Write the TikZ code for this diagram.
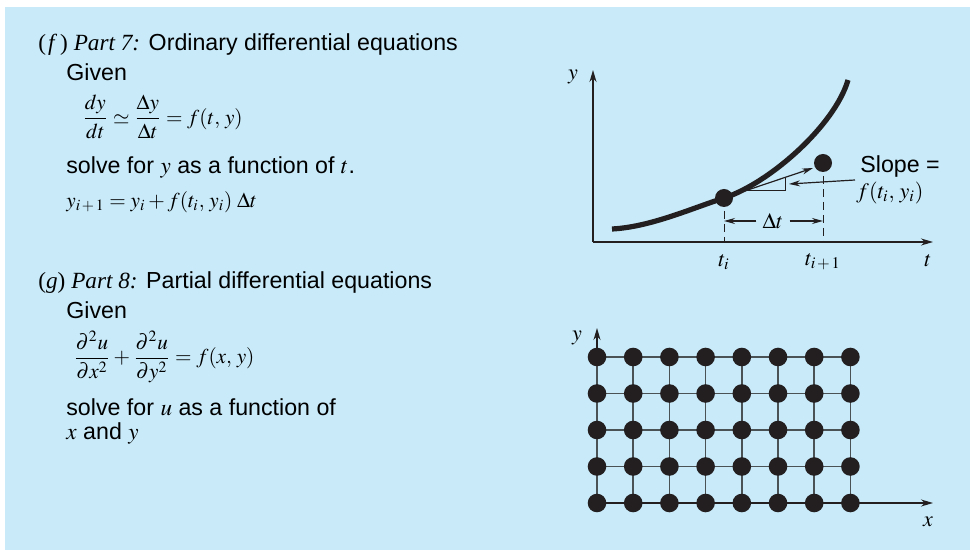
\documentclass[tikz,border=0pt]{standalone}
\usepackage{amsmath}
\usepackage{mathptmx}
\usepackage[no-math]{fontspec}
\setmainfont{Liberation Sans}
\newfontfamily\tms{Liberation Serif}
\usetikzlibrary{arrows.meta}
\definecolor{bgblue}{RGB}{200,234,249}
\definecolor{ink}{RGB}{35,31,32}
\definecolor{gridgray}{RGB}{75,82,86}
\tikzset{
  txt/.style={inner sep=0pt, anchor=west, font=\fontsize{11.6}{13}\selectfont},
  mathtxt/.style={inner sep=0pt, anchor=west, font=\fontsize{10.6}{13}\selectfont},
  lbl/.style={inner sep=0pt, font=\fontsize{11}{13}\selectfont},
  axis/.style={ink, line width=0.7pt, -{Stealth[length=6pt,width=3.5pt]}},
  thinarrow/.style={ink, line width=0.6pt, -{Stealth[length=5.5pt,width=3pt]}},
  dot/.style={circle, fill=ink, inner sep=0pt, minimum size=9pt},
  griddot/.style={circle, fill=ink, inner sep=0pt, minimum size=9.3pt},
}

\begin{document}
\begin{tikzpicture}[x=0.5pt, y=-0.5pt]
	\useasboundingbox (0,0) rectangle (970,550);
	\fill [bgblue] (5,7) rectangle (970,550);

	% (f) ordinary differential equations
	\node [txt] (ftitle) at (38,45) {{\tms(\kern1pt\textit{f}\kern1.5pt) \textit{Part 7:}} Ordinary differential equations};
	\node [txt] (fgiven) at (66,72) {Given};
	\node [mathtxt] (feq) at (82,117) {$\dfrac{dy}{dt} \simeq \dfrac{\Delta y}{\Delta t} = f(t,\, y)$};
	\node [txt] (fsolve) at (66,167) {solve for $y$ as a function of $t$.};
	\node [mathtxt] (feuler) at (66,202) {$y_{i\,+\,1} = y_i + f(t_i,\, y_i)\;\Delta t$};

	% (g) partial differential equations
	\node [txt] (gtitle) at (38,283) {{\tms(\textit{g}) \textit{Part 8:}} Partial differential equations};
	\node [txt] (ggiven) at (66,310) {Given};
	\node [mathtxt] (geq) at (73,357) {$\dfrac{\partial^2 u}{\partial x^2} + \dfrac{\partial^2 u}{\partial y^2} = f(x,\, y)$};
	\node [txt] (gsolve) at (66,407) {solve for $u$ as a function of};
	\node [txt] (gxy) at (66,433) {$x$ and $y$};

	% Euler step plot
	\coordinate (O) at (593,242);
	\coordinate (yend) at (593,70);
	\coordinate (tend) at (933,242);
	\draw [axis] (O) -- (yend);
	\draw [axis] (O) -- (tend);
	\node [lbl] (ylab) at (573,77) {$y$};
	\node [lbl] (tlab) at (928,261) {$t$};

	\coordinate (c1) at (724,198);
	\coordinate (c2) at (823,163);
	\coordinate (ti) at (724,242);
	\coordinate (tj) at (823,242);
	\draw [ink, line width=2.6pt] (612,229) .. controls (650,227) and (690,209) .. (c1)
		.. controls (770,183) and (835,125) .. (848,80);
	\draw [ink, line width=0.5pt, dash pattern=on 4pt off 2.5pt] (c1) -- (ti);
	\draw [ink, line width=0.5pt, dash pattern=on 4pt off 2.5pt] (c2) -- (tj);
	\node [dot] (p1) at (c1) {};
	\node [dot] (p2) at (c2) {};

	\coordinate (tanend) at (813,168);
	\draw [thinarrow] (p1) -- (tanend);
	\draw [ink, line width=0.5pt] (745,191) -- (785,191) -- (785,177);

	\node [txt] (slope) at (860,167) {Slope =};
	\node [lbl, anchor=west] (slopef) at (856,193) {$f(t_i,\, y_i)$};
	\coordinate (slopetip) at (789,184);
	\draw [thinarrow] (855,180) -- (slopetip);

	\node [lbl, inner sep=3pt] (dt) at (773,221) {$\Delta t$};
	\coordinate (dtl) at (724,221);
	\coordinate (dtr) at (823,221);
	\draw [thinarrow] (dt) -- (dtl);
	\draw [thinarrow] (dt) -- (dtr);
	\node [lbl] (tilab) at (724,262) {$t_i$};
	\node [lbl] (tjlab) at (823,262) {$t_{i\,+\,1}$};

	% finite-difference grid
	\foreach \i in {0,...,7}
		\foreach \j in {0,...,4}
			\coordinate (g-\i-\j) at (597+36.2*\i, 503-36.5*\j);
	\coordinate (gyend) at (597,328);
	\coordinate (gxend) at (933,503);
	\draw [axis] (g-0-4) -- (gyend);
	\draw [axis] (g-0-0) -- (gxend);
	\foreach \j in {1,...,4}
		\draw [gridgray, line width=0.8pt] (g-0-\j) -- (g-7-\j);
	\foreach \i in {1,...,7}
		\draw [gridgray, line width=0.8pt] (g-\i-0) -- (g-\i-4);
	\draw [gridgray, line width=0.8pt] (g-0-0) -- (g-0-4);
	\foreach \i in {0,...,7}
		\foreach \j in {0,...,4}
			\node [griddot] (d-\i-\j) at (g-\i-\j) {};
	\node [lbl] (gylab) at (577,338) {$y$};
	\node [lbl] (gxlab) at (928,522) {$x$};
\end{tikzpicture}
\end{document}
